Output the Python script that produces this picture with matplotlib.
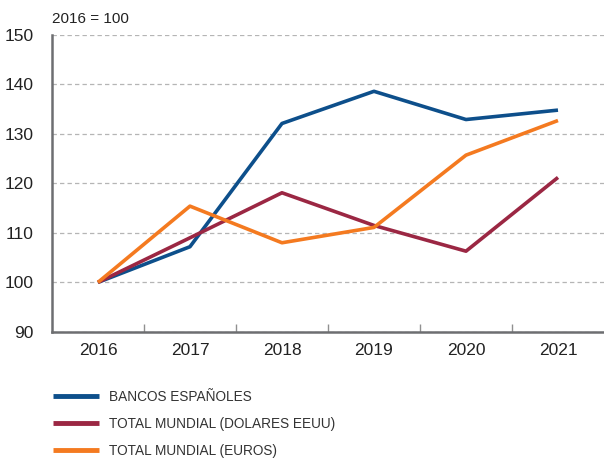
import matplotlib.pyplot as plt

years = ["2016", "2017", "2018", "2019", "2020", "2021"]
bancos = [100, 107.2, 132.1, 138.6, 132.9, 134.8]
mundial_usd = [100, 109.0, 118.1, 111.5, 106.3, 121.2]
mundial_eur = [100, 115.4, 108.0, 111.1, 125.7, 132.7]

labels = ["BANCOS ESPAÑOLES", "TOTAL MUNDIAL (DOLARES EEUU)", "TOTAL MUNDIAL (EUROS)"]
colors = ["#0d4f8b", "#9b2743", "#f47a20"]

plt.rcParams["font.family"] = ["Liberation Sans", "DejaVu Sans"]

fig = plt.figure(figsize=(6.04, 4.59), dpi=100)
ax = fig.add_axes([0.086, 0.277, 0.914, 0.647])

x = list(range(len(years)))
lines = []
for vals, c, lab in zip([bancos, mundial_usd, mundial_eur], colors, labels):
    ln, = ax.plot(x, vals, color=c, lw=2.6, label=lab, solid_capstyle="butt")
    lines.append(ln)

ax.set_xlim(-0.5, len(years) - 0.5)
ax.set_ylim(90, 150)
ax.set_yticks(range(90, 151, 10))
ax.set_xticks(x)
ax.set_xticklabels(years)
ax.set_xticks([i + 0.5 for i in x[:-1]], minor=True)

ax.grid(axis="y", color="#b5b5b5", ls=(0, (3.5, 2.5)), lw=0.9)
ax.set_axisbelow(True)
for s in ["top", "right"]:
    ax.spines[s].set_visible(False)
for s in ["left", "bottom"]:
    ax.spines[s].set_color("#6d6e71")
    ax.spines[s].set_linewidth(1.8)

ax.tick_params(axis="both", which="major", length=0, labelsize=12.5, colors="#222222", pad=8)
ax.tick_params(axis="x", which="minor", length=6, width=1, color="#909090", direction="in")
ax.tick_params(axis="y", pad=13)

fig.text(0.086, 0.958, "2016 = 100", fontsize=11, color="#222222", va="center")

leg = fig.legend(handles=lines, loc="upper left", bbox_to_anchor=(0.078, 0.162),
                 frameon=False, handlelength=3.4, handletextpad=0.75, labelspacing=0.95,
                 prop={"size": 9.8}, borderaxespad=0)
for t in leg.get_texts():
    t.set_color("#333333")
for h in leg.legend_handles:
    h.set_linewidth(3.5)

fig.savefig("out.png", dpi=100)
